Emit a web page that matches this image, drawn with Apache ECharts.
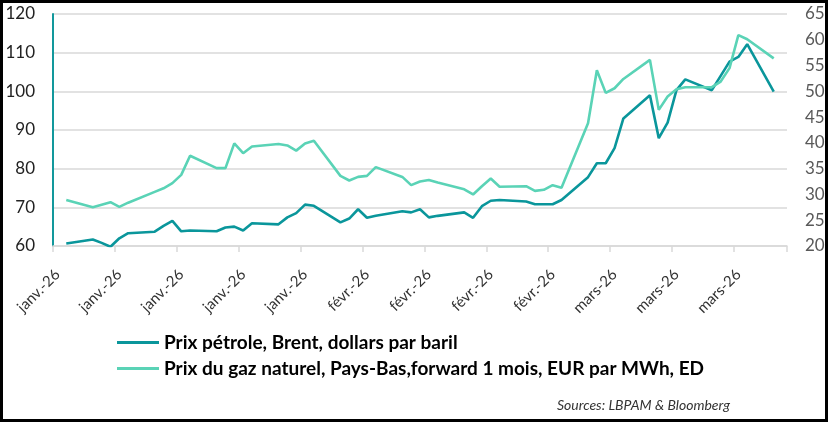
<!DOCTYPE html>
<html>
<head>
<meta charset="utf-8">
<script src="https://cdn.jsdelivr.net/npm/echarts@6/dist/echarts.min.js"></script>
<style>
html,body{margin:0;padding:0;background:#fff;}
#wrap{position:relative;width:828px;height:422px;}
#chart{position:absolute;left:0;top:0;width:828px;height:422px;}
#frame{position:absolute;left:0;top:0;width:828px;height:422px;box-sizing:border-box;border:3px solid #000;pointer-events:none;}
</style>
</head>
<body>
<div id="wrap"><div id="chart"></div><div id="frame"></div></div>
<script>
// Trading days (2026)
const tradingDates = [
 '2026-01-02','2026-01-05','2026-01-06','2026-01-07','2026-01-08','2026-01-09',
 '2026-01-12','2026-01-13','2026-01-14','2026-01-15','2026-01-16',
 '2026-01-19','2026-01-20','2026-01-21','2026-01-22','2026-01-23',
 '2026-01-26','2026-01-27','2026-01-28','2026-01-29','2026-01-30',
 '2026-02-02','2026-02-03','2026-02-04','2026-02-05','2026-02-06',
 '2026-02-09','2026-02-10','2026-02-11','2026-02-12','2026-02-13',
 '2026-02-16','2026-02-17','2026-02-18','2026-02-19','2026-02-20',
 '2026-02-23','2026-02-24','2026-02-25','2026-02-26','2026-02-27',
 '2026-03-02','2026-03-03','2026-03-04','2026-03-05','2026-03-06',
 '2026-03-09','2026-03-10','2026-03-11','2026-03-12','2026-03-13',
 '2026-03-16','2026-03-17','2026-03-18','2026-03-19','2026-03-20',
 '2026-03-23'
];
// Brent, USD per barrel (left axis)
const brent = [
 60.65,61.7,60.8,59.8,62.0,63.3,
 63.7,65.2,66.5,63.8,64.0,
 63.8,64.8,65.0,64.0,65.9,
 65.6,67.4,68.5,70.7,70.4,
 66.1,67.1,69.5,67.3,67.8,
 69.0,68.7,69.5,67.4,67.8,
 68.7,67.3,70.3,71.7,71.9,
 71.5,70.8,70.8,70.8,71.9,
 77.8,81.4,81.4,85.3,93.0,
 99.0,87.9,91.9,100.3,103.1,
 100.3,104.0,107.7,108.9,112.2,
 99.9
];
// Dutch TTF gas, EUR per MWh (right axis)
const gas = [
 28.9,27.5,28.0,28.5,27.6,28.4,
 30.5,31.2,32.2,33.8,37.5,
 35.1,35.1,39.9,38.0,39.3,
 39.8,39.5,38.5,39.9,40.4,
 33.6,32.7,33.4,33.6,35.3,
 33.4,31.8,32.5,32.8,32.3,
 31.0,30.0,31.6,33.1,31.5,
 31.6,30.7,30.9,31.8,31.3,
 43.8,54.1,49.7,50.6,52.4,
 56.1,46.4,49.0,50.4,50.8,
 50.8,51.9,54.5,60.9,60.1,
 56.4
];
const tickLabels = ['janv.-26','janv.-26','janv.-26','janv.-26','janv.-26',
 'févr.-26','févr.-26','févr.-26','févr.-26','mars-26','mars-26','mars-26'];
const axisStart = '2026-01-01';
const axisEnd = '2026-03-24';
const seriesNames = ['Prix pétrole, Brent, dollars par baril',
 'Prix du gaz naturel, Pays-Bas,forward 1 mois, EUR par MWh, ED'];
const sourceText = 'Sources: LBPAM & Bloomberg';

// Build calendar-day category axis
const days = [];
for (let t = Date.parse(axisStart + 'T00:00:00Z'); t <= Date.parse(axisEnd + 'T00:00:00Z'); t += 86400000) {
  days.push(new Date(t).toISOString().slice(0, 10));
}
const brentByDay = days.map(d => { const i = tradingDates.indexOf(d); return i < 0 ? null : brent[i]; });
const gasByDay = days.map(d => { const i = tradingDates.indexOf(d); return i < 0 ? null : gas[i]; });

const FONT = 'Lato, "Open Sans", sans-serif';
const chart = echarts.init(document.getElementById('chart'), null, {renderer: 'canvas'});
chart.setOption({
  animation: false,
  backgroundColor: '#ffffff',
  grid: {left: 53, right: 41, top: 14, bottom: 176, containLabel: false},
  legend: {
    orient: 'vertical', left: 112, top: 327, itemGap: 5,
    itemWidth: 42, itemHeight: 3, icon: 'rect',
    textStyle: {fontFamily: FONT, fontWeight: 'bold', fontSize: 19, color: '#000', lineHeight: 21},
    data: seriesNames
  },
  xAxis: {
    type: 'category', data: days, boundaryGap: true,
    axisLine: {lineStyle: {color: '#D9D9D9', width: 1.5}},
    axisTick: {show: true, length: 6, interval: (i) => i % 7 === 0, lineStyle: {color: '#D9D9D9', width: 1.5}},
    axisLabel: {
      interval: (i) => i % 7 === 0, rotate: 45, margin: 26,
      fontFamily: FONT, fontSize: 15, color: '#333',
      formatter: (v, i) => tickLabels[Math.floor(i / 7)] || ''
    },
    splitLine: {show: false}
  },
  yAxis: [
    {type: 'value', min: 60, max: 120, interval: 10, position: 'left',
     axisLine: {show: true, lineStyle: {color: '#12989C', width: 2}},
     axisTick: {show: false},
     axisLabel: {margin: 18, fontFamily: FONT, fontSize: 17, color: '#222'},
     splitLine: {show: true, lineStyle: {color: '#D9D9D9', width: 1.5}}},
    {type: 'value', min: 20, max: 65, interval: 5, position: 'right',
     axisLine: {show: false}, axisTick: {show: false},
     axisLabel: {margin: 18, fontFamily: FONT, fontSize: 17, color: '#595959'},
     splitLine: {show: false}}
  ],
  series: [
    {name: seriesNames[0], type: 'line', yAxisIndex: 0, data: brentByDay, connectNulls: true,
     showSymbol: false, symbol: 'none', color: '#0A969B', lineStyle: {width: 2.6, color: '#0A969B'}},
    {name: seriesNames[1], type: 'line', yAxisIndex: 1, data: gasByDay, connectNulls: true,
     showSymbol: false, symbol: 'none', color: '#5AD3B6', lineStyle: {width: 2.6, color: '#5AD3B6'}}
  ],
  graphic: [
    {type: 'text', right: 98, top: 398,
     style: {text: sourceText, fontFamily: FONT, fontStyle: 'italic', fontSize: 14, fill: '#333'}}
  ]
});
</script>
</body>
</html>
